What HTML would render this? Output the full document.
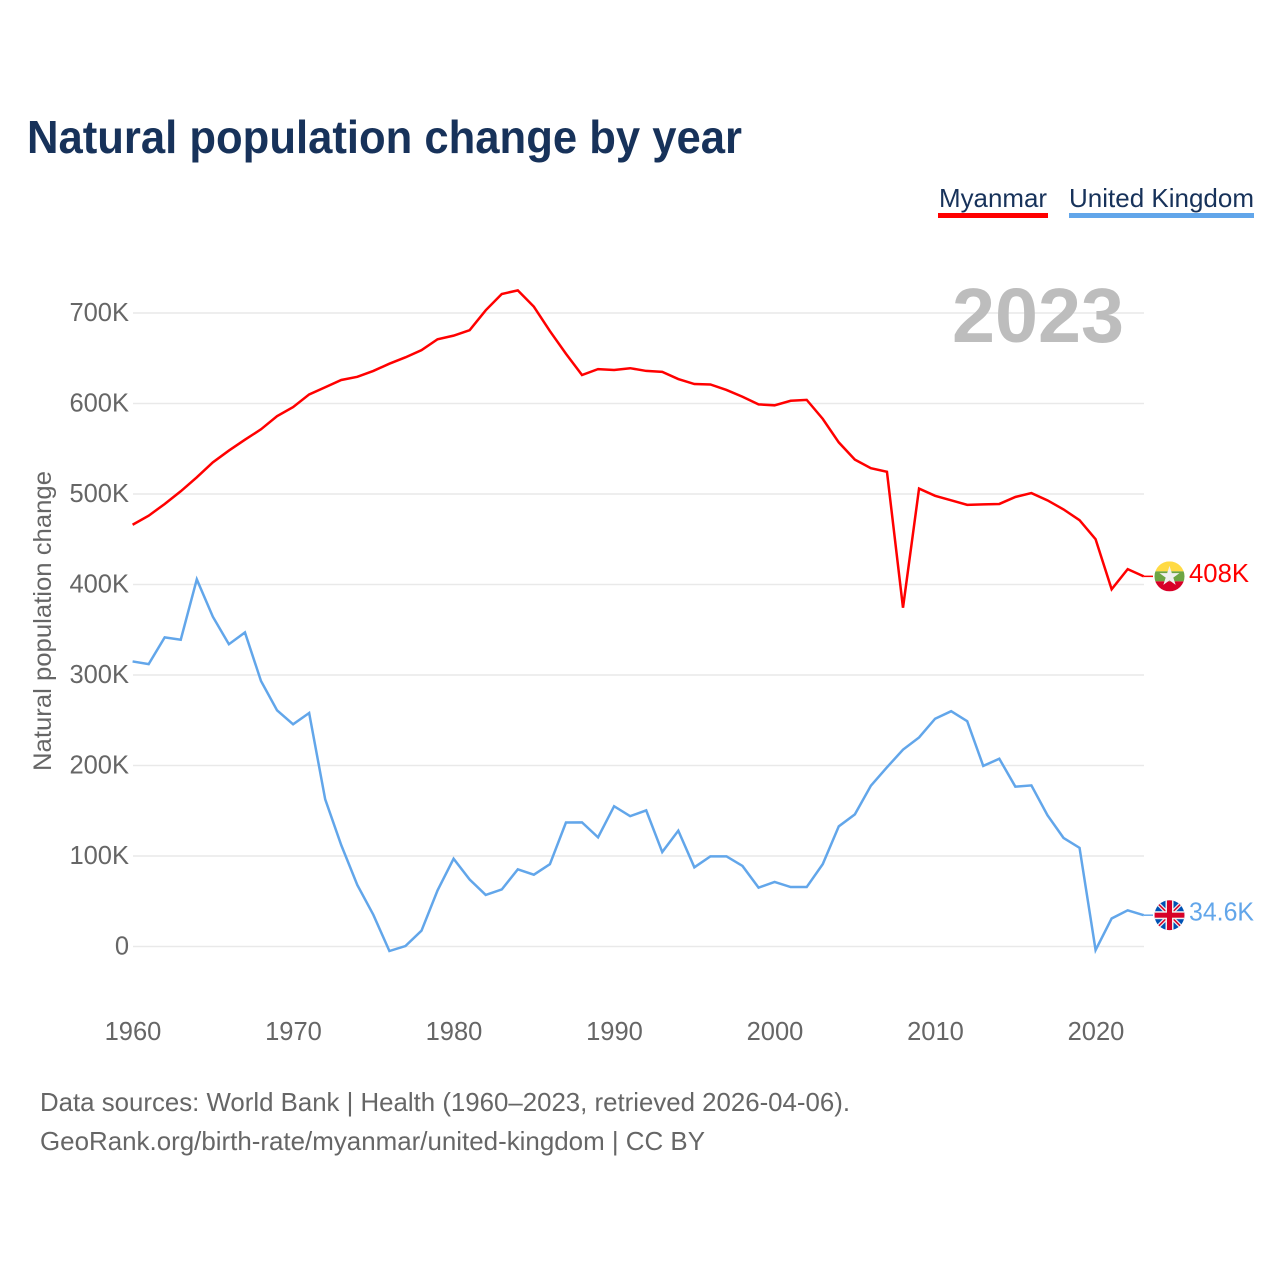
<!DOCTYPE html>
<html lang="en">
<head>
<meta charset="utf-8">
<title>Natural population change by year</title>
<style>
  html, body { margin: 0; padding: 0; background: #fff; }
  svg { display: block; font-family: "Liberation Sans", sans-serif; }
</style>
</head>
<body>
<svg id="chart" xmlns="http://www.w3.org/2000/svg" width="1280" height="1280" viewBox="0 0 1280 1280">
  <defs>
    <clipPath id="flag-clip"><circle cx="0" cy="0" r="15"></circle></clipPath>
  </defs>
  <rect x="0" y="0" width="1280" height="1280" fill="#ffffff"></rect>
  <text x="27" y="153" font-size="46" font-weight="700" fill="#17325a" textLength="715" lengthAdjust="spacingAndGlyphs">Natural population change by year</text>

  <g>
    <g>
      <text x="939" y="207" font-size="26" fill="#17325a" textLength="108" lengthAdjust="spacingAndGlyphs">Myanmar</text>
      <rect x="938" y="213" width="110" height="5" fill="#ff0000"></rect>
    </g>
    <g>
      <text x="1069" y="207" font-size="26" fill="#17325a" textLength="185" lengthAdjust="spacingAndGlyphs">United Kingdom</text>
      <rect x="1069" y="213" width="185" height="5" fill="#62a6ea"></rect>
    </g>
  </g>

  <g id="grid"></g>
  <text x="952" y="342" font-size="77" font-weight="700" fill="#bdbdbd" textLength="172" lengthAdjust="spacingAndGlyphs">2023</text>
  <g id="yticks"></g>
  <g id="xticks"></g>
  <text transform="translate(51,771) rotate(-90)" x="0" y="0" font-size="25" fill="#666666" textLength="300" lengthAdjust="spacingAndGlyphs">Natural population change</text>
  <g id="series"></g>

  <g id="flag-myanmar">
    <g clip-path="url(#flag-clip)">
      <rect x="-15" y="-15" width="30" height="10" fill="#ffda44"></rect>
      <rect x="-15" y="-5" width="30" height="10" fill="#6da544"></rect>
      <rect x="-15" y="5" width="30" height="10" fill="#d80027"></rect>
      <polygon points="0,-10.5 2.35,-3.24 9.99,-3.24 3.8,1.24 6.17,8.49 0,4 -6.17,8.49 -3.8,1.24 -9.99,-3.24 -2.35,-3.24" fill="#f0f0f0"></polygon>
    </g>
  </g>
  <g id="flag-uk">
    <g clip-path="url(#flag-clip)">
      <rect x="-15" y="-15" width="30" height="30" fill="#0052b4"></rect>
      <line x1="-15" y1="-15" x2="15" y2="15" stroke="#f0f0f0" stroke-width="4"></line>
      <line x1="15" y1="-15" x2="-15" y2="15" stroke="#f0f0f0" stroke-width="4"></line>
      <line x1="-15" y1="-15" x2="15" y2="15" stroke="#d80027" stroke-width="1.5"></line>
      <line x1="15" y1="-15" x2="-15" y2="15" stroke="#d80027" stroke-width="1.5"></line>
      <rect x="-15" y="-4" width="30" height="8" fill="#f0f0f0"></rect>
      <rect x="-4" y="-15" width="8" height="30" fill="#f0f0f0"></rect>
      <rect x="-15" y="-2.5" width="30" height="5" fill="#d80027"></rect>
      <rect x="-2.5" y="-15" width="5" height="30" fill="#d80027"></rect>
    </g>
  </g>
  <g id="end-labels"></g>

  <text x="40" y="1111" font-size="26" fill="#666666" textLength="810" lengthAdjust="spacingAndGlyphs">Data sources: World Bank | Health (1960–2023, retrieved 2026-04-06).</text>
  <text x="40" y="1150" font-size="26" fill="#666666" textLength="665" lengthAdjust="spacingAndGlyphs">GeoRank.org/birth-rate/myanmar/united-kingdom | CC BY</text>
</svg>
<script>
const startYear = 1960;
const yTickValues = [0, 100, 200, 300, 400, 500, 600, 700];
const yTickLabels = ["0", "100K", "200K", "300K", "400K", "500K", "600K", "700K"];
const xTickYears = [1960, 1970, 1980, 1990, 2000, 2010, 2020];
const myanmarValues = [466, 476, 489, 503, 518.5, 535, 548, 560, 571.5, 586, 596, 610, 618, 626, 629.5, 636, 644, 651, 659, 671, 675, 681, 703, 721, 725, 707, 680, 655, 631.5, 638, 637, 639, 636, 635, 627, 621.5, 621, 615, 607.5, 599, 598, 603, 604, 583, 557, 538, 528.5, 524.6, 374.4, 506, 498, 493, 488, 488.6, 489, 496.7, 501, 493, 483, 471, 450, 394.7, 417, 409];
const ukValues = [315, 312, 341.6, 339, 405.7, 364.4, 334, 347, 293.4, 261, 245.5, 258, 162.6, 112, 68, 35, -5, 0.5, 17.5, 62, 97, 74, 57, 63, 85.3, 79.3, 91, 137, 137.2, 120.6, 155, 144, 150.4, 104.4, 128, 87.5, 99.6, 99.6, 89, 65, 71.3, 65.7, 65.7, 91, 132.8, 146, 177.7, 198, 217.5, 231, 251.7, 260, 249, 199.5, 207.5, 176.6, 178, 145, 120, 109, -4, 31, 40, 34.6];
const endLabels = ["408K", "34.6K"];

const NS = "http://www.w3.org/2000/svg";
const xScale = function (year) { return 132.6 + (year - 1960) * 16.05; };
const yScale = function (v) { return 946.5 - v * 0.905; };

function make(tag, parent, attrs) {
  const el = document.createElementNS(NS, tag);
  Object.keys(attrs).forEach(function (k) { el.setAttribute(k, attrs[k]); });
  parent.appendChild(el);
  return el;
}

const gridGroup = document.getElementById("grid");
const yGroup = document.getElementById("yticks");
yTickValues.forEach(function (v, i) {
  const line = make("line", gridGroup, { x1: 133, x2: 1144, y1: yScale(v), y2: yScale(v), stroke: "#e9e9e9", "stroke-width": 1.5 });
  
  
  const label = make("text", yGroup, { x: 129, y: yScale(v) + 8, "text-anchor": "end", "font-size": 25.5, fill: "#666666" });
  
  
  label.textContent = yTickLabels[i];
});

const xGroup = document.getElementById("xticks");
xTickYears.forEach(function (year) {
  const label = make("text", xGroup, { x: xScale(year) + 0.4, y: 1040, "text-anchor": "middle", "font-size": 25.5, fill: "#666666" });
  
  
  label.textContent = String(year);
});

function drawSeries(values, color, lineName, stubName, labelName, flagId, labelText, labelLen) {
  const group = document.getElementById("series");
  const pts = values.map(function (v, i) { return xScale(startYear + i).toFixed(2) + "," + yScale(v).toFixed(2); }).join(" ");
  const line = make("polyline", group, { points: pts, fill: "none", stroke: color, "stroke-width": 2.5, "stroke-linejoin": "miter" });
  
  

  const lastVal = values[values.length - 1];
  const lastX = xScale(startYear + values.length - 1);
  const lastY = yScale(lastVal);
  const stub = make("line", group, { x1: lastX, x2: 1153, y1: lastY, y2: lastY, stroke: color, "stroke-width": 1.5 });
  
  

  document.getElementById(flagId).setAttribute("transform", "translate(1169.5," + lastY.toFixed(2) + ")");

  const label = make("text", document.getElementById("end-labels"), { x: 1189, y: lastY + 5.5, "font-size": 25.5, fill: color, textLength: labelLen, lengthAdjust: "spacingAndGlyphs" });
  
  
  label.textContent = labelText;
}

drawSeries(myanmarValues, "#ff0000", "line-myanmar", "connector-myanmar", "end-label-myanmar", "flag-myanmar", endLabels[0], 60);
drawSeries(ukValues, "#62a6ea", "line-united-kingdom", "connector-united-kingdom", "end-label-united-kingdom", "flag-uk", endLabels[1], 65);
</script>
</body>
</html>
